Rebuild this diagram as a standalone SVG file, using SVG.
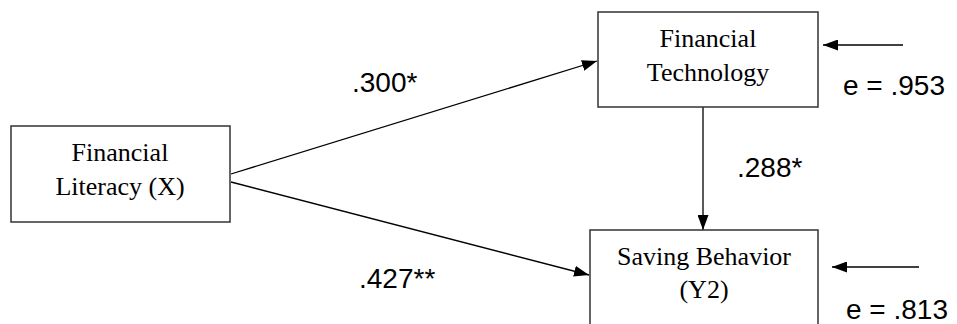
<svg xmlns="http://www.w3.org/2000/svg" width="957" height="324" viewBox="0 0 957 324">
  <defs>
    <marker id="arrow" viewBox="0 0 15 11" refX="15" refY="5.5" markerWidth="15" markerHeight="11" markerUnits="userSpaceOnUse" orient="auto">
      <path d="M0,0 L15,5.5 L0,11 Z" fill="#000"/>
    </marker>
    <style>
      .box { fill: #fff; stroke: #333; stroke-width: 1.5; }
      .node-text { font-family: "Liberation Serif", "Times New Roman", serif; font-size: 26px; fill: #000; text-anchor: middle; }
      .edge { stroke: #000; stroke-width: 1.3; fill: none; marker-end: url(#arrow); }
      .coef { font-family: "Liberation Sans", Arial, sans-serif; font-size: 28px; fill: #000; }
    </style>
  </defs>
  <rect width="957" height="324" fill="#fff"/>

  <g id="connectors">
    <line class="edge" x1="231" y1="174" x2="597" y2="61"/>
    <line class="edge" x1="231" y1="182" x2="589" y2="275"/>
    <line class="edge" x1="703" y1="107" x2="703" y2="230"/>
    <line class="edge" x1="903" y1="45" x2="823" y2="45"/>
    <line class="edge" x1="919" y1="267" x2="832" y2="267"/>
  </g>

  <g id="financial-literacy">
    <rect class="box" x="11" y="126" width="219" height="96"/>
    <text class="node-text" x="120" y="161">Financial</text>
    <text class="node-text" x="120" y="195">Literacy (X)</text>
  </g>

  <g id="financial-technology">
    <rect class="box" x="598" y="12" width="220" height="95"/>
    <text class="node-text" x="708" y="47">Financial</text>
    <text class="node-text" x="708" y="81">Technology</text>
  </g>

  <g id="saving-behavior">
    <rect class="box" x="590" y="230" width="228" height="110"/>
    <text class="node-text" x="704" y="265">Saving Behavior</text>
    <text class="node-text" x="704" y="298">(Y2)</text>
  </g>

  <g id="labels">
    <text class="coef" x="352" y="92">.300*</text>
    <text class="coef" x="737" y="177">.288*</text>
    <text class="coef" x="359" y="288">.427**</text>
    <text class="coef" x="843" y="95">e = .953</text>
    <text class="coef" x="846" y="319">e = .813</text>
  </g>
</svg>
